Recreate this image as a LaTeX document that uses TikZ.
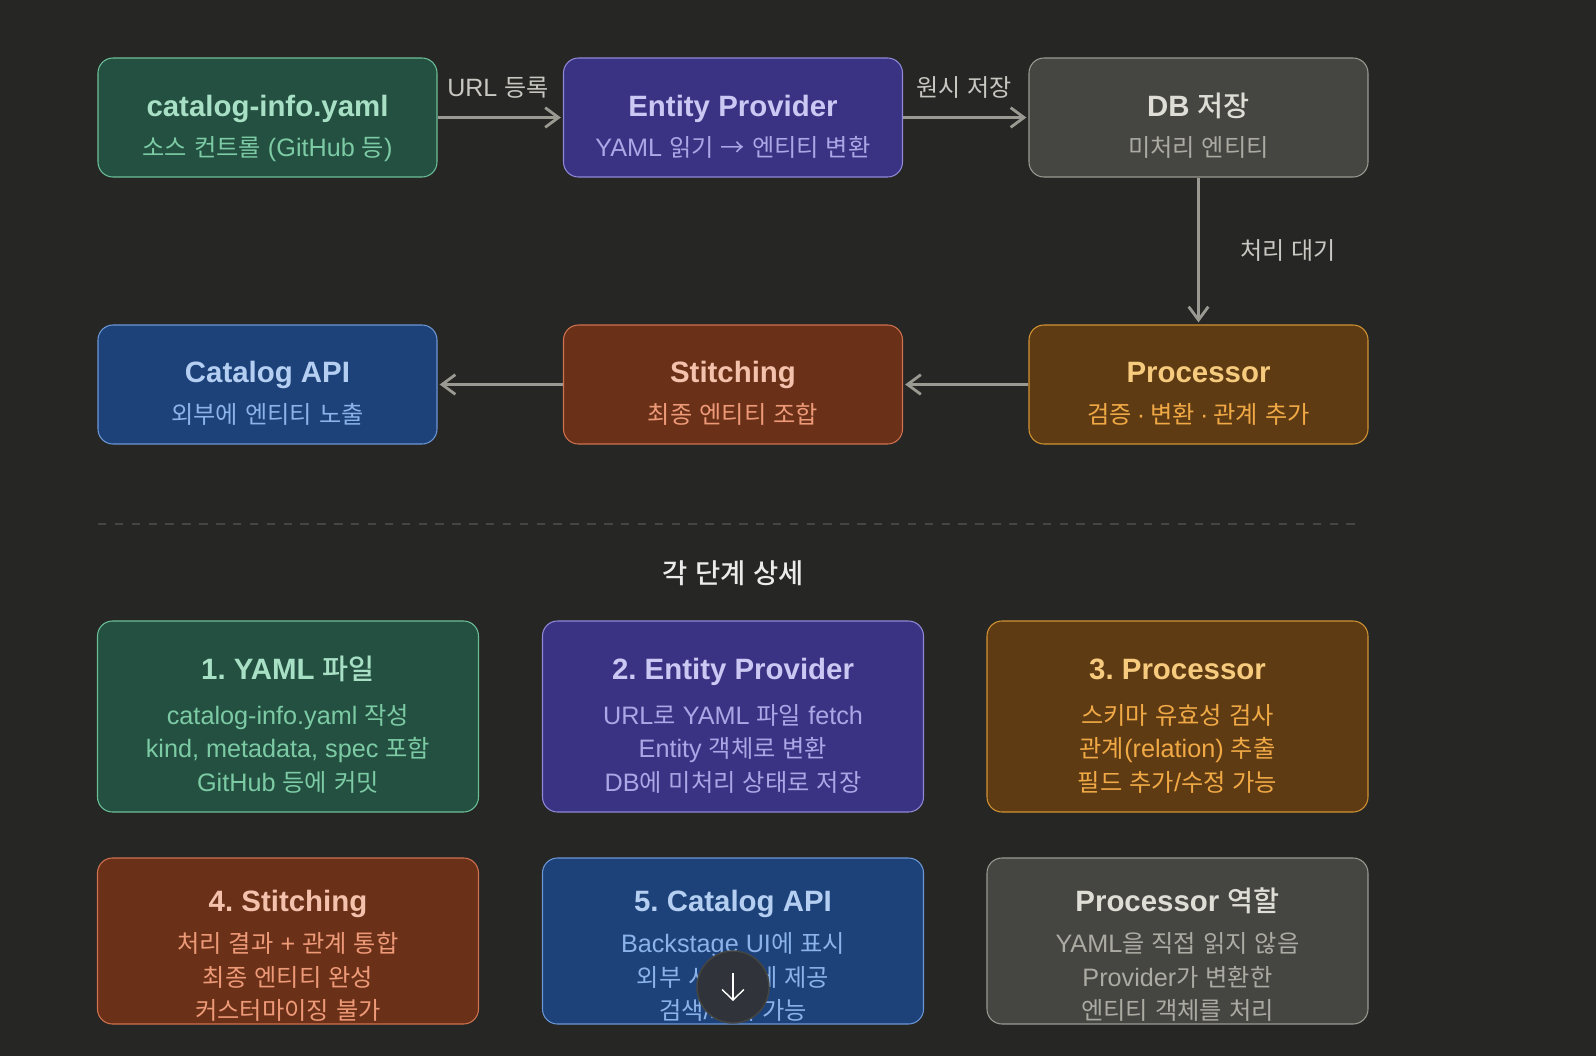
\documentclass[tikz,border=0pt]{standalone}
\usepackage{fontspec}
\setmainfont{Liberation Sans}[Scale=1.04]
\newfontfamily\kofont{Noto Sans CJK KR}[BoldFont={Noto Sans CJK KR Medium}]
% Hangul goes to the Korean font by itself
\newXeTeXintercharclass\hangulclass
\XeTeXinterchartokenstate=1
\makeatletter
\count@="AC00
\loop\ifnum\count@<"D7A4
  \XeTeXcharclass\count@=\hangulclass
  \advance\count@ by 1
\repeat
\XeTeXcharclass"2192=\hangulclass
\makeatother
\XeTeXinterchartoks 0 \hangulclass={\begingroup\kofont}
\XeTeXinterchartoks 4095 \hangulclass={\begingroup\kofont}
\XeTeXinterchartoks \hangulclass 0={\endgroup}
\XeTeXinterchartoks \hangulclass 4095={\endgroup}
\AtBeginDocument{\frenchspacing}
\usetikzlibrary{arrows.meta}
\definecolor{pagebg}{HTML}{262624}
\definecolor{greenfill}{HTML}{245041}
\definecolor{greenline}{HTML}{6BBF98}
\definecolor{greentitle}{HTML}{A8E0C6}
\definecolor{greentext}{HTML}{7CCBA5}
\definecolor{purplefill}{HTML}{3A3283}
\definecolor{purpleline}{HTML}{8F89D8}
\definecolor{purpletitle}{HTML}{CBC8F3}
\definecolor{purpletext}{HTML}{ABA7E6}
\definecolor{grayfill}{HTML}{454541}
\definecolor{grayline}{HTML}{9A9A92}
\definecolor{graytitle}{HTML}{DEDDD6}
\definecolor{graytext}{HTML}{ACABA3}
\definecolor{orangefill}{HTML}{5F3B14}
\definecolor{orangeline}{HTML}{D29333}
\definecolor{orangetitle}{HTML}{F6CB7E}
\definecolor{orangetext}{HTML}{F0A945}
\definecolor{brownfill}{HTML}{6A3018}
\definecolor{brownline}{HTML}{D0714F}
\definecolor{browntitle}{HTML}{F3C1AC}
\definecolor{browntext}{HTML}{EE9A78}
\definecolor{bluefill}{HTML}{1D4279}
\definecolor{blueline}{HTML}{6C97D6}
\definecolor{bluetitle}{HTML}{B5CFF3}
\definecolor{bluetext}{HTML}{8BB2EA}
\definecolor{scrollfill}{HTML}{30343A}
\begin{document}
\begin{tikzpicture}[
        y=-1cm,
        card/.style={draw, rounded corners=0.15cm, line width=0.3pt, inner sep=0pt},
        flow/.style={card, minimum width=3.39cm, minimum height=1.19cm},
        wide/.style={card, minimum width=3.81cm, minimum height=1.91cm},
        low/.style={card, minimum width=3.81cm, minimum height=1.66cm},
        green/.style={fill=greenfill, draw=greenline},
        purple/.style={fill=purplefill, draw=purpleline},
        graybox/.style={fill=grayfill, draw=grayline},
        orange/.style={fill=orangefill, draw=orangeline},
        brown/.style={fill=brownfill, draw=brownline},
        blue/.style={fill=bluefill, draw=blueline},
        title/.style={font=\fontsize{8.05}{10}\selectfont\bfseries, anchor=base, inner sep=0pt},
        desc/.style={font=\fontsize{6.9}{9.53}\selectfont, anchor=base, align=center, inner sep=0pt},
        arrow/.style={-{Straight Barb[length=3.8pt, width=5.6pt]}, line width=0.8pt, draw=grayline, shorten >=0.6pt},
        tag/.style={font=\fontsize{6.85}{9}\selectfont, text=graytitle!90!black, inner sep=0pt}
    ]
        % Page
        \fill[pagebg] (0,0) rectangle (15.96,10.56);

        % Flow, first row
        \node[flow, green] (Yaml) at (2.675,1.175) {};
        \node[flow, purple] (Provider) at (7.33,1.175) {};
        \node[flow, graybox] (Db) at (11.985,1.175) {};
        \node[title, text=greentitle] (YamlT) at (2.675,1.16) {catalog-info.yaml};
        \node[desc, text=greentext] (YamlD) at (2.675,1.565) {소스 컨트롤 (GitHub 등)};
        \node[title, text=purpletitle] (ProviderT) at (7.33,1.16) {Entity Provider};
        \node[desc, text=purpletext] (ProviderD) at (7.33,1.565) {YAML 읽기 → 엔티티 변환};
        \node[title, text=graytitle] (DbT) at (11.985,1.16) {DB 저장};
        \node[desc, text=graytext] (DbD) at (11.985,1.565) {미처리 엔티티};

        % Flow, second row
        \node[flow, blue] (Api) at (2.675,3.845) {};
        \node[flow, brown] (Stitch) at (7.33,3.845) {};
        \node[flow, orange] (Proc) at (11.985,3.845) {};
        \node[title, text=bluetitle] (ApiT) at (2.675,3.82) {Catalog API};
        \node[desc, text=bluetext] (ApiD) at (2.675,4.23) {외부에 엔티티 노출};
        \node[title, text=browntitle] (StitchT) at (7.33,3.82) {Stitching};
        \node[desc, text=browntext] (StitchD) at (7.33,4.23) {최종 엔티티 조합};
        \node[title, text=orangetitle] (ProcT) at (11.985,3.82) {Processor};
        \node[desc, text=orangetext] (ProcD) at (11.985,4.23) {검증\hspace{0.2em}·\hspace{0.2em}변환\hspace{0.2em}·\hspace{0.2em}관계 추가};

        % Flow arrows
        \draw[arrow] (Yaml) -- (Provider);
        \draw[arrow] (Provider) -- (Db);
        \draw[arrow] (Db) -- (Proc);
        \draw[arrow] (Proc) -- (Stitch);
        \draw[arrow] (Stitch) -- (Api);
        \node[tag] (LabelUrl) at (4.98,0.875) {URL 등록};
        \node[tag] (LabelRaw) at (9.64,0.875) {원시 저장};
        \node[tag] (LabelWait) at (12.88,2.5) {처리 대기};

        % Divider and heading
        \draw[dash pattern=on 2.4pt off 2.4pt, draw=grayfill, line width=0.3pt] (0.98,5.24) -- (13.63,5.24);
        \node[text=white!92!black, font=\fontsize{7.8}{10}\selectfont\bfseries, inner sep=0pt] (Heading) at (7.33,5.73) {각 단계 상세};

        % Detail cards, first row
        \node[wide, green] (CardA) at (2.88,7.165) {};
        \node[wide, purple] (CardB) at (7.33,7.165) {};
        \node[wide, orange] (CardC) at (11.775,7.165) {};
        \node[title, text=greentitle] (CardAT) at (2.88,6.79) {1. YAML 파일};
        \node[desc, text=greentext] (CardAD) at (2.88,7.91) {catalog-info.yaml 작성\\kind, metadata, spec 포함\\GitHub 등에 커밋};
        \node[title, text=purpletitle] (CardBT) at (7.33,6.79) {2. Entity Provider};
        \node[desc, text=purpletext] (CardBD) at (7.33,7.91) {URL로 YAML 파일 fetch\\Entity 객체로 변환\\DB에 미처리 상태로 저장};
        \node[title, text=orangetitle] (CardCT) at (11.775,6.79) {3. Processor};
        \node[desc, text=orangetext] (CardCD) at (11.775,7.91) {스키마 유효성 검사\\관계(relation) 추출\\필드 추가/수정 가능};

        % Detail cards, second row
        \node[low, brown] (CardD) at (2.88,9.41) {};
        \node[low, blue] (CardE) at (7.33,9.41) {};
        \node[low, graybox] (CardF) at (11.775,9.41) {};
        \node[title, text=browntitle] (CardDT) at (2.88,9.117) {4. Stitching};
        \node[desc, text=browntext] (CardDD) at (2.88,10.195) {처리 결과 + 관계 통합\\최종 엔티티 완성\\커스터마이징 불가};
        \node[title, text=bluetitle] (CardET) at (7.33,9.117) {5. Catalog API};
        \node[desc, text=bluetext] (CardED) at (7.33,10.195) {Backstage UI에 표시\\외부 시스템에 제공\\검색/조회 가능};
        \node[title, text=graytitle] (CardFT) at (11.775,9.117) {Processor 역할};
        \node[desc, text=graytext] (CardFD) at (11.775,10.195) {YAML을 직접 읽지 않음\\Provider가 변환한\\엔티티 객체를 처리};

        % Scroll button
        \node[circle, draw=grayfill, fill=scrollfill, minimum size=0.72cm, inner sep=0pt, line width=0.4pt] (Scroll) at (7.33,9.87) {};
        \coordinate (ScrollTop) at (7.33,9.73);
        \coordinate (ScrollEnd) at (7.33,10.01);
        \draw[-{Straight Barb[length=3pt, width=6.2pt]}, white, line width=0.4pt] (ScrollTop) -- (ScrollEnd);
    \end{tikzpicture}
\end{document}
